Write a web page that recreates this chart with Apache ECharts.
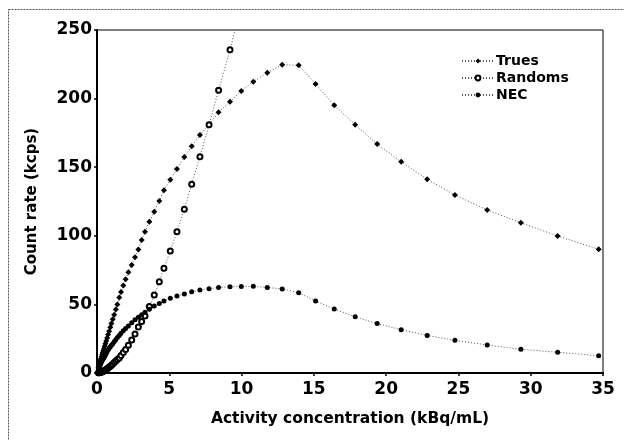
<!DOCTYPE html>
<html>
<head>
<meta charset="utf-8">
<title>Count rate vs activity concentration</title>
<script src="https://cdn.jsdelivr.net/npm/echarts@6.0.0/dist/echarts.min.js"></script>
<style>
  html, body { margin: 0; padding: 0; background: #fff; }
  #main { width: 624px; height: 440px; }
</style>
</head>
<body>
<div id="main"></div>
<script>
// activity concentration (kBq/mL), same for all three curves
var conc = [0.1, 0.13, 0.16, 0.19, 0.22, 0.25, 0.28, 0.32, 0.36, 0.4,
  0.44, 0.48, 0.53, 0.58, 0.64, 0.7, 0.77, 0.84, 0.92, 1.0,
  1.09, 1.19, 1.3, 1.41, 1.54, 1.66, 1.82, 1.98, 2.17, 2.4,
  2.63, 2.86, 3.09, 3.32, 3.62, 3.96, 4.31, 4.63, 5.07, 5.53,
  6.04, 6.55, 7.12, 7.75, 8.41, 9.2, 9.98, 10.81, 11.78, 12.81,
  13.95, 15.12, 16.41, 17.86, 19.38, 21.04, 22.84, 24.76, 26.99, 29.32,
  31.86, 34.7];

// count rates (kcps)
var trues = [3.9, 5.0, 6.1, 7.2, 8.3, 9.4, 10.5, 11.9, 13.4, 14.8,
  16.3, 17.7, 19.5, 21.3, 23.4, 25.5, 28.0, 30.5, 33.3, 36.1,
  39.2, 42.5, 46.2, 50.0, 55.0, 59.0, 63.8, 68.3, 73.4, 78.7,
  84.3, 90.1, 96.9, 103.0, 110.3, 117.6, 125.4, 133.2, 140.9, 148.7,
  157.4, 165.2, 173.5, 181.2, 190.0, 197.7, 205.5, 212.3, 218.9, 224.7,
  224.3, 210.6, 195.1, 181.0, 166.9, 154.0, 141.2, 129.7, 118.8, 109.5,
  99.9, 90.2];

// randoms run off the top of the chart after ~9 kBq/mL
var randoms = [0.1, 0.2, 0.2, 0.3, 0.4, 0.5, 0.6, 0.8, 0.9, 1.1,
  1.3, 1.6, 1.9, 2.2, 2.6, 3.1, 3.7, 4.3, 5.0, 5.7,
  6.6, 7.6, 8.7, 9.8, 11.0, 12.8, 15.0, 17.2, 20.2, 24.0,
  28.5, 33.5, 37.5, 41.5, 48.5, 56.9, 66.5, 76.3, 88.9, 103.0,
  119.3, 137.5, 157.7, 181.0, 206.0, 235.6, 268.0];

var nec = [2.9, 3.7, 4.5, 5.3, 6.0, 6.8, 7.5, 8.4, 9.3, 10.1,
  10.6, 11.3, 12.2, 13.2, 14.4, 15.6, 16.9, 18.0, 19.2, 20.2,
  21.4, 22.8, 24.2, 25.8, 27.4, 29.0, 30.8, 32.5, 34.3, 36.6,
  38.8, 40.6, 42.4, 44.2, 46.5, 48.8, 50.6, 52.4, 54.4, 56.1,
  57.6, 59.2, 60.5, 61.4, 62.3, 62.9, 63.0, 63.2, 62.3, 61.3,
  58.5, 52.5, 46.6, 41.0, 36.0, 31.6, 27.4, 23.8, 20.4, 17.3,
  15.1, 12.6];

var xTicks = [0, 5, 10, 15, 20, 25, 30, 35];
var yTicks = [0, 50, 100, 150, 200, 250];

function pairs(ys) {
  return ys.map(function (y, i) { return [conc[i], y]; });
}

// wide heavy face, closest to the original's bold Arial look
var font = "'DejaVu Sans', 'Liberation Sans', sans-serif";

var myChart = echarts.init(document.getElementById('main'), null, { renderer: 'canvas' });

var lineStyle = { color: '#555', width: 1, type: [1, 2] };

var option = {
  animation: false,
  backgroundColor: '#fff',
  graphic: [{
    // dotted frame round the figure
    type: 'rect',
    shape: { x: 8.5, y: 9.5, width: 640, height: 460 },
    style: { fill: 'none', stroke: '#555', lineWidth: 1, lineDash: [2, 1] },
    silent: true
  }],
  grid: {
    left: 97, right: 21, top: 30, bottom: 67,
    show: true, borderColor: '#000', borderWidth: 1,
    backgroundColor: 'transparent'
  },
  legend: {
    orient: 'vertical',
    left: 456, top: 49,
    itemWidth: 32, itemHeight: 6, itemGap: 3,
    data: ['Trues', 'Randoms', 'NEC'],
    textStyle: { fontFamily: font, fontWeight: 'bold', fontSize: 14, color: '#000', padding: [0, 0, 0, -3] }
  },
  xAxis: {
    type: 'value',
    min: xTicks[0], max: xTicks[xTicks.length - 1], interval: 5,
    name: 'Activity concentration (kBq/mL)',
    nameLocation: 'middle', nameGap: 38,
    nameTextStyle: { fontFamily: font, fontWeight: 'bold', fontSize: 15.5, color: '#000' },
    axisLine: { lineStyle: { color: '#000', width: 2 } },
    axisTick: { show: true, length: 3, lineStyle: { color: '#000', width: 1.5 } },
    axisLabel: { fontFamily: font, fontWeight: 'bold', fontSize: 17, color: '#000', margin: 8 },
    splitLine: { show: false }
  },
  yAxis: {
    type: 'value',
    min: yTicks[0], max: yTicks[yTicks.length - 1], interval: 50,
    name: 'Count rate (kcps)',
    nameLocation: 'middle', nameGap: 57, nameRotate: 90,
    nameTextStyle: { fontFamily: font, fontWeight: 'bold', fontSize: 15, color: '#000' },
    axisLine: { lineStyle: { color: '#000', width: 2 } },
    axisTick: { show: true, length: 3, lineStyle: { color: '#000', width: 1.5 } },
    axisLabel: { fontFamily: font, fontWeight: 'bold', fontSize: 17, color: '#000', margin: 5 },
    splitLine: { show: false }
  },
  series: [
    {
      name: 'Trues', type: 'line',
      data: pairs(trues),
      symbol: 'diamond', symbolSize: 6, showAllSymbol: true,
      itemStyle: { color: '#000' },
      lineStyle: lineStyle
    },
    {
      name: 'Randoms', type: 'line',
      data: pairs(randoms),
      symbol: 'emptyCircle', symbolSize: 5, showAllSymbol: true,
      itemStyle: { color: '#000', borderWidth: 1 },
      lineStyle: lineStyle,
      clip: true
    },
    {
      name: 'NEC', type: 'line',
      data: pairs(nec),
      symbol: 'circle', symbolSize: 5, showAllSymbol: true,
      itemStyle: { color: '#000' },
      lineStyle: lineStyle
    }
  ]
};

myChart.setOption(option);
</script>
</body>
</html>
